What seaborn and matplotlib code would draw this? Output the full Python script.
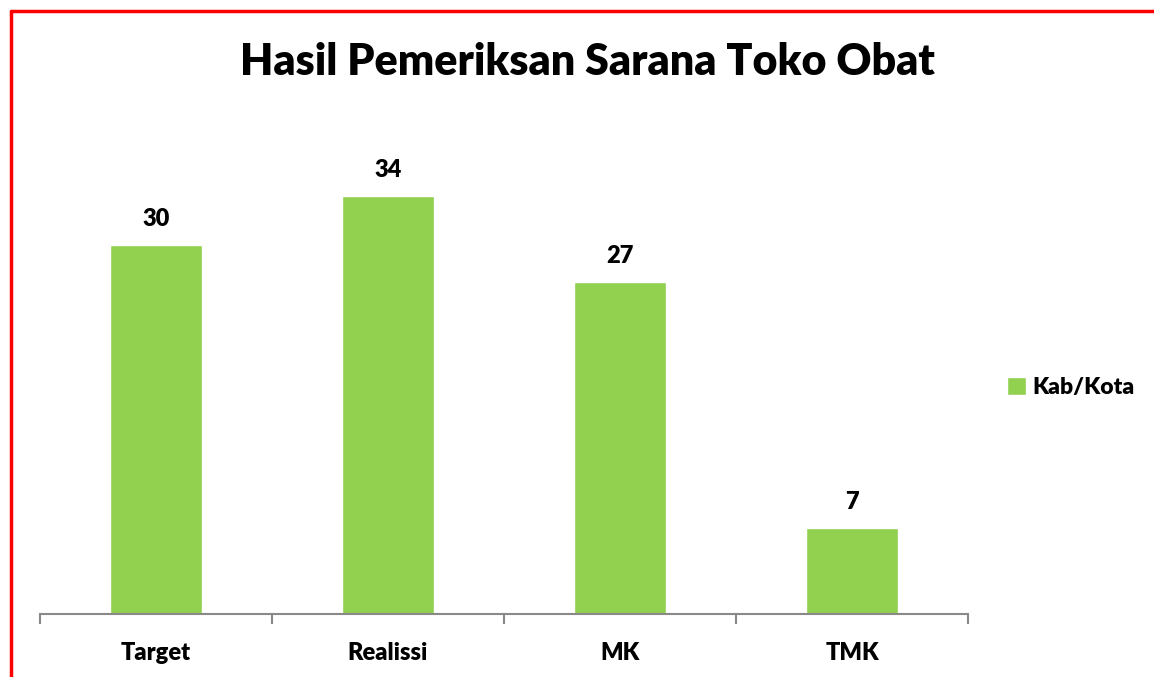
import pandas as pd
import matplotlib.pyplot as plt
import seaborn as sns
from matplotlib.lines import Line2D
from matplotlib.ticker import FixedLocator

# Data
kategori = ['Target', 'Realissi', 'MK', 'TMK']
nilai = [30, 34, 27, 7]
seri = ['Kab/Kota'] * len(kategori)

df = pd.DataFrame({'kategori': kategori, 'nilai': nilai, 'seri': seri})

sns.set_style('white')
plt.rcParams['font.family'] = ['Lato', 'DejaVu Sans']
plt.rcParams['text.color'] = 'black'
plt.rcParams['xtick.color'] = 'black'

fig = plt.figure(figsize=(11.54, 6.77), dpi=100)
ax = fig.add_axes([40 / 1154, 63 / 677, 928 / 1154, 492 / 677])

sns.barplot(data=df, x='kategori', y='nilai', hue='seri', palette=['#92D050'],
            width=0.4, saturation=1, ax=ax)

for c in ax.containers:
    ax.bar_label(c, padding=11, fontsize=17, fontweight='heavy', color='black')

ax.set_ylim(0, 40)
ax.set_xlim(-0.5, 3.5)
ax.set_xlabel('')
ax.set_ylabel('')
ax.set_yticks([])
for s in ['top', 'right', 'left']:
    ax.spines[s].set_visible(False)
ax.spines['bottom'].set_color('#898989')
ax.spines['bottom'].set_linewidth(1.5)

ax.xaxis.set_minor_locator(FixedLocator([-0.5, 0.5, 1.5, 2.5, 3.5]))
ax.tick_params(axis='x', which='minor', bottom=True, length=7, width=1.5, color='#898989')
ax.tick_params(axis='x', which='major', bottom=True, length=0, pad=20, labelcolor='black')
for lbl in ax.get_xticklabels():
    lbl.set_fontsize(17)
    lbl.set_fontweight('heavy')

leg = ax.legend(loc='center left', bbox_to_anchor=(1.02, 0.46), frameon=False,
                handlelength=0.8, handleheight=0.8, handletextpad=0.3,
                prop={'size': 16.5, 'weight': 'heavy'})
for t in leg.get_texts():
    t.set_color('black')

fig.text(587 / 1154, 1 - 62 / 677, 'Hasil Pemeriksan Sarana Toko Obat',
         ha='center', va='center', fontsize=31, fontweight='heavy', color='black')

# red frame
fig.add_artist(Line2D([11 / 1154, 11 / 1154], [0, 1 - 11 / 677], color='red', lw=2.5,
                      transform=fig.transFigure))
fig.add_artist(Line2D([11 / 1154, 1], [1 - 11 / 677, 1 - 11 / 677], color='red', lw=2.5,
                      transform=fig.transFigure))

plt.savefig('out.png', dpi=100)
plt.close()
